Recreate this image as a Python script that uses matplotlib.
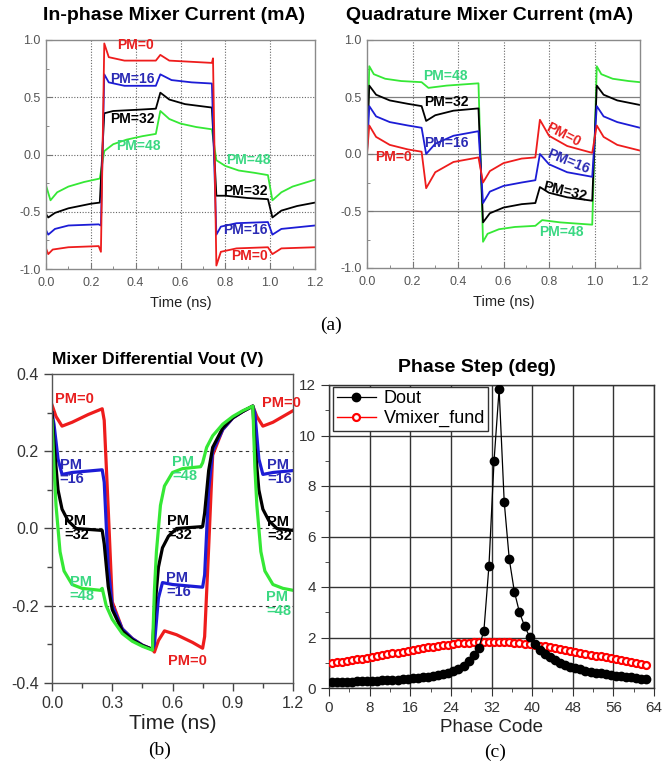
import numpy as np
import matplotlib
matplotlib.use("Agg")
import matplotlib.pyplot as plt
from matplotlib.ticker import MultipleLocator

plt.rcParams['font.family'] = ['Liberation Sans', 'DejaVu Sans']

# ---------------- colours ----------------
RED = '#ee1c1c'
BLUE = '#1c1cd6'
BLACK = '#000000'
GREEN = '#35e835'
RED_T = '#e81e1e'
BLUE_T = '#2a2ab4'
GREEN_T = '#3ad882'

# ---------------- (a) In-phase mixer current ----------------
ip_t_pm0 = [0.0, 0.01, 0.03, 0.1, 0.235, 0.245, 0.26, 0.28, 0.35, 0.49, 0.51, 0.55, 0.74, 0.745, 0.76, 0.78, 0.85, 0.99, 1.01, 1.05, 1.2]
ip_v_pm0 = [-0.82, -0.87, -0.83, -0.81, -0.80, -0.85, 0.97, 0.85, 0.82, 0.82, 0.87, 0.82, 0.80, 0.84, -0.97, -0.85, -0.82, -0.81, -0.87, -0.82, -0.81]
ip_t_pm16 = [0.0, 0.01, 0.04, 0.1, 0.235, 0.245, 0.26, 0.28, 0.35, 0.49, 0.51, 0.56, 0.65, 0.74, 0.76, 0.78, 0.85, 0.99, 1.01, 1.05, 1.2]
ip_v_pm16 = [-0.66, -0.70, -0.65, -0.62, -0.61, -0.62, 0.70, 0.63, 0.60, 0.60, 0.70, 0.65, 0.63, 0.62, -0.70, -0.63, -0.60, -0.59, -0.70, -0.65, -0.62]
ip_t_pm32 = [0.0, 0.01, 0.04, 0.1, 0.2, 0.24, 0.26, 0.3, 0.4, 0.49, 0.51, 0.55, 0.62, 0.74, 0.76, 0.8, 0.9, 0.99, 1.01, 1.05, 1.12, 1.2]
ip_v_pm32 = [-0.52, -0.55, -0.51, -0.47, -0.43, -0.42, 0.36, 0.38, 0.39, 0.40, 0.54, 0.48, 0.44, 0.41, -0.36, -0.36, -0.38, -0.39, -0.55, -0.49, -0.45, -0.42]
ip_t_pm48 = [0.0, 0.02, 0.05, 0.1, 0.17, 0.24, 0.26, 0.3, 0.36, 0.43, 0.49, 0.51, 0.55, 0.6, 0.67, 0.74, 0.76, 0.8, 0.86, 0.93, 0.99, 1.01, 1.05, 1.1, 1.15, 1.2]
ip_v_pm48 = [-0.27, -0.40, -0.33, -0.28, -0.24, -0.21, 0.03, 0.09, 0.13, 0.16, 0.18, 0.38, 0.31, 0.27, 0.24, 0.22, -0.05, -0.10, -0.14, -0.16, -0.18, -0.40, -0.33, -0.28, -0.25, -0.22]

# ---------------- (a) Quadrature mixer current ----------------
q_t_pm48 = [0.0, 0.01, 0.03, 0.08, 0.15, 0.24, 0.27, 0.35, 0.49, 0.51, 0.53, 0.58, 0.65, 0.74, 0.77, 0.85, 0.99, 1.01, 1.03, 1.08, 1.15, 1.2]
q_v_pm48 = [0.0, 0.77, 0.70, 0.66, 0.64, 0.63, 0.58, 0.60, 0.62, -0.77, -0.70, -0.66, -0.64, -0.63, -0.58, -0.60, -0.62, 0.77, 0.70, 0.66, 0.64, 0.63]
q_t_pm32 = [0.0, 0.01, 0.04, 0.1, 0.18, 0.24, 0.26, 0.3, 0.38, 0.49, 0.51, 0.54, 0.6, 0.68, 0.74, 0.76, 0.8, 0.88, 0.99, 1.01, 1.04, 1.1, 1.2]
q_v_pm32 = [0.05, 0.60, 0.52, 0.47, 0.44, 0.42, 0.29, 0.34, 0.38, 0.40, -0.60, -0.52, -0.47, -0.44, -0.43, -0.29, -0.34, -0.38, -0.41, 0.60, 0.52, 0.47, 0.43]
q_t_pm16 = [0.0, 0.01, 0.04, 0.1, 0.18, 0.24, 0.26, 0.3, 0.38, 0.49, 0.51, 0.54, 0.6, 0.68, 0.74, 0.76, 0.8, 0.88, 0.99, 1.01, 1.04, 1.1, 1.2]
q_v_pm16 = [0.02, 0.42, 0.33, 0.28, 0.25, 0.23, 0.0, 0.09, 0.16, 0.20, -0.43, -0.33, -0.28, -0.25, -0.23, 0.0, -0.09, -0.16, -0.20, 0.42, 0.33, 0.28, 0.23]
q_t_pm0 = [0.0, 0.01, 0.04, 0.1, 0.18, 0.24, 0.26, 0.3, 0.38, 0.49, 0.51, 0.54, 0.6, 0.68, 0.74, 0.76, 0.8, 0.88, 0.99, 1.01, 1.04, 1.1, 1.2]
q_v_pm0 = [0.0, 0.25, 0.15, 0.08, 0.04, 0.02, -0.30, -0.16, -0.07, -0.03, -0.25, -0.15, -0.08, -0.04, -0.03, 0.30, 0.16, 0.07, 0.01, 0.25, 0.15, 0.08, 0.03]

# ---------------- (b) Mixer differential Vout ----------------
v_t_pm0 = [0.0, 0.02, 0.05, 0.1, 0.18, 0.25, 0.26, 0.28, 0.3, 0.35, 0.4, 0.45, 0.5, 0.51, 0.53, 0.56, 0.62, 0.7, 0.75, 0.76, 0.78, 0.8, 0.85, 0.9, 0.95, 1.0, 1.02, 1.05, 1.1, 1.2]
v_v_pm0 = [0.32, 0.29, 0.265, 0.275, 0.295, 0.31, 0.28, 0.05, -0.19, -0.26, -0.285, -0.302, -0.313, -0.32, -0.29, -0.265, -0.275, -0.295, -0.31, -0.28, -0.05, 0.19, 0.256, 0.286, 0.303, 0.317, 0.29, 0.265, 0.275, 0.305]
v_t_pm16 = [0.0, 0.01, 0.03, 0.05, 0.1, 0.25, 0.26, 0.28, 0.3, 0.35, 0.4, 0.45, 0.5, 0.51, 0.53, 0.55, 0.6, 0.75, 0.76, 0.78, 0.8, 0.85, 0.9, 0.95, 1.0, 1.01, 1.03, 1.05, 1.1, 1.2]
v_v_pm16 = [0.30, 0.27, 0.18, 0.14, 0.145, 0.152, 0.12, -0.1, -0.20, -0.26, -0.285, -0.302, -0.313, -0.30, -0.18, -0.14, -0.145, -0.152, -0.12, 0.1, 0.20, 0.256, 0.286, 0.303, 0.317, 0.30, 0.18, 0.14, 0.145, 0.15]
v_t_pm32 = [0.0, 0.01, 0.03, 0.05, 0.08, 0.12, 0.25, 0.26, 0.28, 0.3, 0.35, 0.4, 0.45, 0.5, 0.51, 0.53, 0.55, 0.58, 0.62, 0.75, 0.76, 0.78, 0.8, 0.85, 0.9, 0.95, 1.0, 1.01, 1.03, 1.05, 1.08, 1.12, 1.2]
v_v_pm32 = [0.30, 0.22, 0.10, 0.05, 0.02, 0.0, -0.005, -0.04, -0.15, -0.21, -0.265, -0.288, -0.303, -0.313, -0.22, -0.10, -0.05, -0.02, 0.0, 0.005, 0.04, 0.15, 0.21, 0.26, 0.287, 0.303, 0.317, 0.22, 0.10, 0.05, 0.02, 0.0, -0.005]
v_t_pm48 = [0.0, 0.01, 0.02, 0.04, 0.06, 0.1, 0.15, 0.24, 0.25, 0.27, 0.3, 0.35, 0.4, 0.45, 0.5, 0.51, 0.52, 0.54, 0.56, 0.6, 0.65, 0.74, 0.75, 0.77, 0.8, 0.85, 0.9, 0.95, 1.0, 1.01, 1.02, 1.04, 1.06, 1.1, 1.15, 1.2]
v_v_pm48 = [0.28, 0.16, 0.06, -0.06, -0.11, -0.145, -0.155, -0.16, -0.155, -0.2, -0.235, -0.272, -0.292, -0.305, -0.315, -0.16, -0.06, 0.06, 0.11, 0.145, 0.155, 0.16, 0.17, 0.21, 0.24, 0.27, 0.29, 0.305, 0.317, 0.16, 0.06, -0.06, -0.11, -0.145, -0.155, -0.16]

# ---------------- (c) Phase step ----------------
phase_code = np.arange(0.5, 63.0, 1.0)
dout = [0.23, 0.23, 0.24, 0.24, 0.25, 0.26, 0.26, 0.27, 0.28, 0.29,
        0.30, 0.31, 0.32, 0.33, 0.35, 0.36, 0.38, 0.40, 0.42, 0.44,
        0.47, 0.50, 0.55, 0.60, 0.66, 0.75, 0.88, 1.05, 1.30, 1.60,
        2.26, 4.85, 8.99, 11.84, 7.38, 5.10, 3.82, 3.00, 2.46, 2.03,
        1.75, 1.52, 1.35, 1.21, 1.10, 1.00, 0.92, 0.85, 0.79, 0.74,
        0.69, 0.65, 0.61, 0.58, 0.55, 0.52, 0.49, 0.46, 0.44, 0.42,
        0.39, 0.37, 0.35]
vmixer_fund = [0.98, 1.01, 1.04, 1.07, 1.10, 1.13, 1.16, 1.19, 1.23, 1.26,
               1.30, 1.33, 1.37, 1.40, 1.44, 1.47, 1.51, 1.54, 1.58, 1.61,
               1.64, 1.67, 1.70, 1.72, 1.75, 1.77, 1.79, 1.80, 1.81, 1.82,
               1.83, 1.83, 1.83, 1.83, 1.82, 1.81, 1.80, 1.78, 1.76, 1.74,
               1.71, 1.68, 1.65, 1.62, 1.58, 1.55, 1.51, 1.47, 1.44, 1.40,
               1.36, 1.32, 1.28, 1.25, 1.21, 1.17, 1.14, 1.10, 1.07, 1.03,
               1.00, 0.97, 0.93]

W, H = 663, 764
fig = plt.figure(figsize=(W / 100, H / 100), dpi=100)


def box(l, r, t, b):
    return [l / W, 1 - b / H, (r - l) / W, (b - t) / H]


def style_a(ax, hgrid_ls):
    ax.set_xlim(0, 1.2)
    ax.set_ylim(-1.0, 1.0)
    ax.xaxis.set_major_locator(MultipleLocator(0.2))
    ax.xaxis.set_minor_locator(MultipleLocator(0.1))
    ax.yaxis.set_major_locator(MultipleLocator(0.5))
    ax.yaxis.set_minor_locator(MultipleLocator(0.25))
    ax.tick_params(which='both', direction='in', colors='#777777', labelcolor='#555555', labelsize=9)
    ax.tick_params(which='major', length=4)
    ax.tick_params(which='minor', length=2)
    ax.tick_params(axis='x', pad=6)
    ax.tick_params(axis='y', pad=4)
    for s in ax.spines.values():
        s.set_color('#8a8a8a')
        s.set_linewidth(1.0)
    for xv in [0.2, 0.4, 0.6, 0.8, 1.0]:
        ax.axvline(xv, color='#666666', lw=0.8, ls=(0, (1, 1.5)), zorder=0)
    for yv in [0.5, 0.0, -0.5]:
        if hgrid_ls == 'solid':
            ax.axhline(yv, color='#808080', lw=0.9, zorder=0)
        else:
            ax.axhline(yv, color='#666666', lw=0.8, ls=(0, (1, 1.5)), zorder=0)
    ax.set_xlabel('Time (ns)', fontsize=10.5, color='#222222', labelpad=5)
    ax.yaxis.set_major_formatter(matplotlib.ticker.FormatStrFormatter('%.1f'))
    ax.xaxis.set_major_formatter(matplotlib.ticker.FormatStrFormatter('%.1f'))


# ---- (a) left
ax1 = fig.add_axes(box(46, 315, 40, 269))
style_a(ax1, 'dotted')
ax1.plot(ip_t_pm48, ip_v_pm48, color=GREEN, lw=1.3)
ax1.plot(ip_t_pm32, ip_v_pm32, color=BLACK, lw=1.3)
ax1.plot(ip_t_pm16, ip_v_pm16, color=BLUE, lw=1.3)
ax1.plot(ip_t_pm0, ip_v_pm0, color=RED, lw=1.3)
fs_a = 10
for (x, y, s, c) in [(0.40, 0.955, 'PM=0', RED_T), (0.385, 0.66, 'PM=16', BLUE_T),
                     (0.385, 0.31, 'PM=32', BLACK), (0.41, 0.07, 'PM=48', GREEN_T),
                     (0.905, -0.05, 'PM=48', GREEN_T), (0.89, -0.315, 'PM=32', BLACK),
                     (0.89, -0.66, 'PM=16', BLUE_T), (0.91, -0.89, 'PM=0', RED_T)]:
    ax1.text(x, y, s, color=c, fontsize=fs_a, fontweight='bold', ha='center', va='center')
fig.text(174 / W, 1 - 15 / H, 'In-phase Mixer Current (mA)', ha='center', va='center',
         fontsize=14, fontweight='bold')

# ---- (a) right
ax2 = fig.add_axes(box(367, 640, 40, 268))
style_a(ax2, 'solid')
ax2.plot(q_t_pm48, q_v_pm48, color=GREEN, lw=1.3)
ax2.plot(q_t_pm32, q_v_pm32, color=BLACK, lw=1.3)
ax2.plot(q_t_pm16, q_v_pm16, color=BLUE, lw=1.3)
ax2.plot(q_t_pm0, q_v_pm0, color=RED, lw=1.3)
for (x, y, s, c, r) in [(0.343, 0.68, 'PM=48', GREEN_T, 0), (0.35, 0.46, 'PM=32', BLACK, 0),
                        (0.35, 0.095, 'PM=16', BLUE_T, 0), (0.115, -0.03, 'PM=0', RED_T, 0),
                        (0.865, 0.165, 'PM=0', RED_T, -27), (0.885, -0.07, 'PM=16', BLUE_T, -22),
                        (0.87, -0.33, 'PM=32', BLACK, -14), (0.855, -0.68, 'PM=48', GREEN_T, 0)]:
    ax2.text(x, y, s, color=c, fontsize=fs_a, fontweight='bold', ha='center', va='center',
             rotation=r, rotation_mode='anchor')
fig.text(490 / W, 1 - 15 / H, 'Quadrature Mixer Current (mA)', ha='center', va='center',
         fontsize=14, fontweight='bold')

fig.text(331 / W, 1 - 325 / H, '(a)', ha='center', va='center', fontsize=14,
         family=['Liberation Serif', 'DejaVu Serif'])

# ---- (b)
ax3 = fig.add_axes(box(52, 293, 374, 683))
ax3.set_xlim(0, 1.2)
ax3.set_ylim(-0.4, 0.4)
ax3.xaxis.set_major_locator(MultipleLocator(0.3))
ax3.xaxis.set_minor_locator(MultipleLocator(0.15))
ax3.yaxis.set_major_locator(MultipleLocator(0.2))
ax3.yaxis.set_minor_locator(MultipleLocator(0.1))
ax3.xaxis.set_major_formatter(matplotlib.ticker.FormatStrFormatter('%.1f'))
ax3.yaxis.set_major_formatter(matplotlib.ticker.FormatStrFormatter('%.1f'))
ax3.tick_params(which='both', direction='out', colors='#444444', labelcolor='#333333', labelsize=11.5)
ax3.tick_params(which='major', length=6, width=1)
ax3.tick_params(which='minor', length=3.5, width=1)
for s in ax3.spines.values():
    s.set_color('#555555')
    s.set_linewidth(1.0)
for yv in [0.2, 0.0, -0.2]:
    ax3.axhline(yv, color='#333333', lw=0.8, ls=(0, (3, 3)), zorder=0)
ax3.plot(v_t_pm0, v_v_pm0, color=RED, lw=2.3, solid_joinstyle='round')
ax3.plot(v_t_pm16, v_v_pm16, color=BLUE, lw=2.3, solid_joinstyle='round')
ax3.plot(v_t_pm32, v_v_pm32, color=BLACK, lw=2.3, solid_joinstyle='round')
ax3.plot(v_t_pm48, v_v_pm48, color=GREEN, lw=2.3, solid_joinstyle='round')
fs_b = 10.5
for (x, y, s, c) in [(0.11, 0.334, 'PM=0', RED_T), (0.10, 0.146, 'PM\n=16', BLUE_T),
                     (0.124, 0.0, 'PM\n=32', BLACK), (0.15, -0.156, 'PM\n=48', GREEN_T),
                     (0.662, 0.155, 'PM\n=48', GREEN_T), (0.637, 0.0, 'PM\n=32', BLACK),
                     (0.63, -0.147, 'PM\n=16', BLUE_T), (0.672, -0.344, 'PM=0', RED_T),
                     (1.142, 0.325, 'PM=0', RED_T), (1.134, 0.146, 'PM\n=16', BLUE_T),
                     (1.134, -0.002, 'PM\n=32', BLACK), (1.128, -0.196, 'PM\n=48', GREEN_T)]:
    ax3.text(x, y, s, color=c, fontsize=fs_b, fontweight='bold', ha='center', va='center',
             linespacing=1.0, multialignment='left')
ax3.set_xlabel('Time (ns)', fontsize=15, color='#222222', labelpad=2)
fig.text(158 / W, 1 - 360 / H, 'Mixer Differential Vout (V)', ha='center', va='center',
         fontsize=12.5, fontweight='bold')
fig.text(160 / W, 1 - 750 / H, '(b)', ha='center', va='center', fontsize=14,
         family=['Liberation Serif', 'DejaVu Serif'])

# ---- (c)
ax4 = fig.add_axes(box(329, 654, 385, 688))
ax4.set_xlim(0, 64)
ax4.set_ylim(0, 12)
ax4.xaxis.set_major_locator(MultipleLocator(8))
ax4.xaxis.set_minor_locator(MultipleLocator(4))
ax4.yaxis.set_major_locator(MultipleLocator(2))
ax4.yaxis.set_minor_locator(MultipleLocator(1))
ax4.tick_params(which='both', direction='out', colors='#333333', labelcolor='#333333', labelsize=11)
ax4.tick_params(which='major', length=6)
ax4.tick_params(which='minor', length=3)
ax4.grid(True, which='major', color='#333333', lw=1.0)
ax4.set_axisbelow(True)
for s in ax4.spines.values():
    s.set_color('#333333')
    s.set_linewidth(1.0)
ax4.plot(phase_code, vmixer_fund, color='red', lw=1.0, marker='o', ms=5, mfc='white',
         mec='red', mew=1.6, label='Vmixer_fund', zorder=3)
ax4.plot(phase_code, dout, color='black', lw=0.9, marker='o', ms=6, mfc='black', mec='black',
         label='Dout', zorder=4)
h, l = ax4.get_legend_handles_labels()
leg = ax4.legend([h[1], h[0]], [l[1], l[0]], loc='upper left', fontsize=13, frameon=True,
                 fancybox=False, edgecolor='#333333', framealpha=1, borderpad=0.2,
                 handlelength=2.2, handletextpad=0.4, labelspacing=0.15,
                 bbox_to_anchor=(0.012, 0.995), borderaxespad=0)
leg.get_frame().set_linewidth(1.0)
ax4.set_xlabel('Phase Code', fontsize=13.5, color='#222222', labelpad=3)
fig.text(477 / W, 1 - 367 / H, 'Phase Step (deg)', ha='center', va='center',
         fontsize=14, fontweight='bold')
fig.text(495 / W, 1 - 752 / H, '(c)', ha='center', va='center', fontsize=14,
         family=['Liberation Serif', 'DejaVu Serif'])

fig.savefig('out.png', dpi=100)
